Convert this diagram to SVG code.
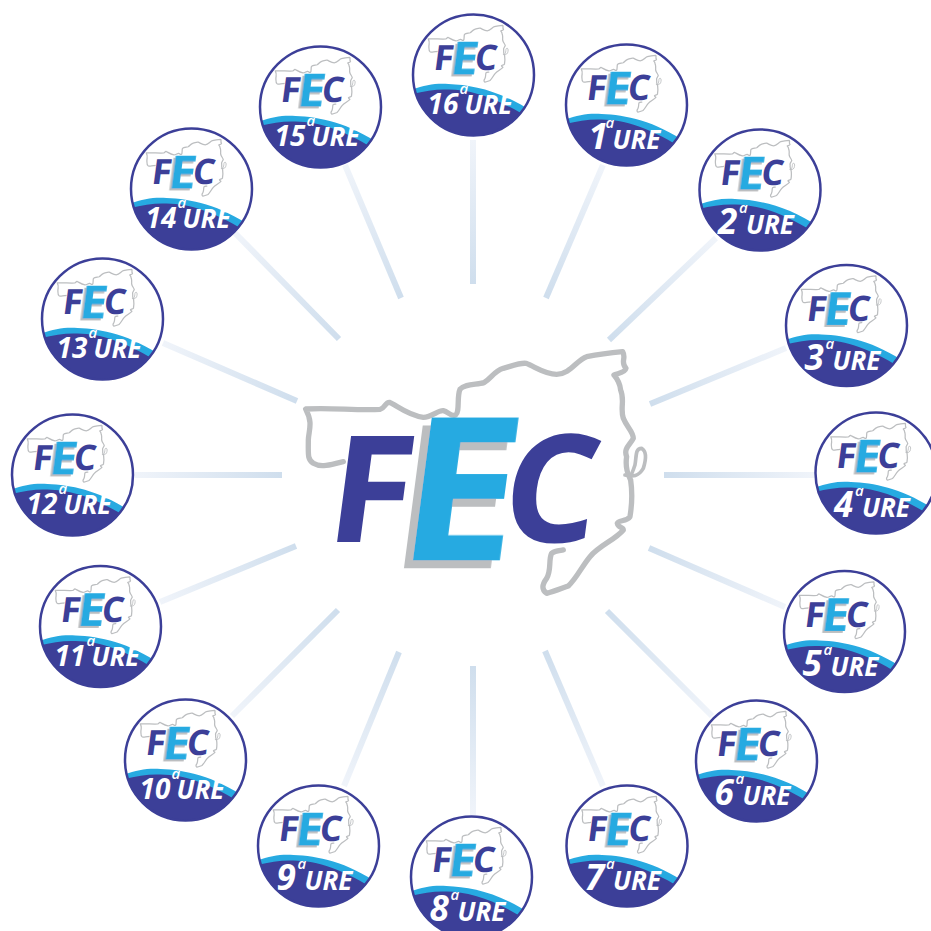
<svg xmlns="http://www.w3.org/2000/svg" width="931" height="931" viewBox="0 0 931 931">
<style>
.ol{fill:none;stroke:#bcbec0;stroke-width:16;stroke-linecap:round;stroke-linejoin:round}
.lt{font-family:"Open Sans","Noto Sans",sans-serif;font-weight:700}
.n{fill:#3c3f98}.b{fill:#27aae1}
.cn line{stroke-width:6}
.t{font-family:"Open Sans","Noto Sans",sans-serif;font-style:italic;font-weight:700;fill:#fff}
.d{font-size:28px}.s{font-size:35px}.a{font-size:15px;font-weight:600}.u{font-size:26px}
</style>
<defs>
<filter id="sh" x="-25%" y="-10%" width="140%" height="130%"><feFlood flood-color="#bcbec0"/><feComposite in2="SourceAlpha" operator="in"/><feOffset dx="-24" dy="25"/><feMerge><feMergeNode/><feMergeNode in="SourceGraphic"/></feMerge></filter>
<clipPath id="cc"><circle r="61"/></clipPath>
<linearGradient id="g"><stop offset="0" stop-color="#f0f4fa"/><stop offset="1" stop-color="#cfdeed"/></linearGradient>
<g id="logo">
<path class="ol" d="M160 365C125 372 95 385 70 370C52 358 55 345 55 300C56 270 70 250 47 207C120 202 200 212 270 208C285 205 285 187 298 187C320 195 350 225 400 232C425 232 445 210 460 212C475 215 485 232 497 225C510 215 500 170 510 148C525 130 560 135 582 128C605 115 610 95 640 85C665 78 690 68 708 70C735 80 765 103 800 103C840 103 860 60 890 50C930 42 965 38 998 35C1010 55 990 65 1008 85C1005 100 980 100 972 105C985 120 990 130 992 150C1005 180 990 205 1000 235C1010 260 1030 275 1030 295C1020 315 1000 325 1010 350C1005 385 1015 405 1022 420C1028 460 1025 500 1020 530C1010 545 985 540 982 550C985 565 1000 560 1000 570C975 600 930 615 900 650C875 680 860 715 835 738C815 745 790 755 770 760C755 750 755 735 770 715C785 690 775 660 785 640C795 632 810 632 820 630"/>
<path class="ol" d="M1005 405C1030 410 1045 410 1060 385C1068 360 1072 335 1055 325C1035 325 1040 350 1035 375C1030 390 1025 405 1020 410" style="stroke-width:11"/>
<text class="lt n" font-size="445" transform="translate(100 607) skewX(-7.500) scale(1.040 1)">F</text>
<text class="lt b" font-size="598" transform="translate(312 661) skewX(-7.500) scale(1.060 1)" filter="url(#sh)">E</text>
<text class="lt n" font-size="450" transform="translate(623 607) skewX(-7.500)">C</text>
</g>
<g id="badge">
<circle r="61" fill="#fff"/>
<g clip-path="url(#cc)">
<path class="b" d="M-65 16C-50 10 -38 8 -25 9C0 10 30 16 65 41V70H-65Z"/>
<path class="n" d="M-65 20C-50 16 -38 14 -25 14.500C0 15 25 23 65 49V70H-65Z"/>
</g>
<circle r="60.500" fill="none" stroke="#3c3f98" stroke-width="2.500"/>
<use href="#logo" transform="translate(-48.900 -52.300) scale(.0783)"/>
</g>
</defs>
<g id="connectors" class="cn">
<linearGradient id="c16" href="#g" gradientUnits="userSpaceOnUse" x1="473" y1="140" x2="473" y2="284"/><line x1="473" y1="140" x2="473" y2="284" stroke="url(#c16)"/>
<linearGradient id="c1" href="#g" gradientUnits="userSpaceOnUse" x1="603" y1="165" x2="546" y2="298"/><line x1="603" y1="165" x2="546" y2="298" stroke="url(#c1)"/>
<linearGradient id="c2" href="#g" gradientUnits="userSpaceOnUse" x1="716" y1="238" x2="609" y2="340"/><line x1="716" y1="238" x2="609" y2="340" stroke="url(#c2)"/>
<linearGradient id="c3" href="#g" gradientUnits="userSpaceOnUse" x1="786" y1="348" x2="650" y2="404"/><line x1="786" y1="348" x2="650" y2="404" stroke="url(#c3)"/>
<linearGradient id="c4" href="#g" gradientUnits="userSpaceOnUse" x1="815" y1="475" x2="664" y2="475"/><line x1="815" y1="475" x2="664" y2="475" stroke="url(#c4)"/>
<linearGradient id="c5" href="#g" gradientUnits="userSpaceOnUse" x1="785" y1="607" x2="649" y2="548"/><line x1="785" y1="607" x2="649" y2="548" stroke="url(#c5)"/>
<linearGradient id="c6" href="#g" gradientUnits="userSpaceOnUse" x1="712" y1="716" x2="607" y2="611"/><line x1="712" y1="716" x2="607" y2="611" stroke="url(#c6)"/>
<linearGradient id="c7" href="#g" gradientUnits="userSpaceOnUse" x1="603" y1="786" x2="545" y2="651"/><line x1="603" y1="786" x2="545" y2="651" stroke="url(#c7)"/>
<linearGradient id="c8" href="#g" gradientUnits="userSpaceOnUse" x1="473" y1="815" x2="473" y2="666"/><line x1="473" y1="815" x2="473" y2="666" stroke="url(#c8)"/>
<linearGradient id="c9" href="#g" gradientUnits="userSpaceOnUse" x1="344" y1="786" x2="399" y2="652"/><line x1="344" y1="786" x2="399" y2="652" stroke="url(#c9)"/>
<linearGradient id="c10" href="#g" gradientUnits="userSpaceOnUse" x1="232" y1="716" x2="338" y2="610"/><line x1="232" y1="716" x2="338" y2="610" stroke="url(#c10)"/>
<linearGradient id="c11" href="#g" gradientUnits="userSpaceOnUse" x1="160" y1="602" x2="296" y2="546"/><line x1="160" y1="602" x2="296" y2="546" stroke="url(#c11)"/>
<linearGradient id="c12" href="#g" gradientUnits="userSpaceOnUse" x1="135" y1="475" x2="282" y2="475"/><line x1="135" y1="475" x2="282" y2="475" stroke="url(#c12)"/>
<linearGradient id="c13" href="#g" gradientUnits="userSpaceOnUse" x1="163" y1="343" x2="297" y2="401"/><line x1="163" y1="343" x2="297" y2="401" stroke="url(#c13)"/>
<linearGradient id="c14" href="#g" gradientUnits="userSpaceOnUse" x1="235" y1="233" x2="339" y2="339"/><line x1="235" y1="233" x2="339" y2="339" stroke="url(#c14)"/>
<linearGradient id="c15" href="#g" gradientUnits="userSpaceOnUse" x1="345" y1="165" x2="401" y2="298"/><line x1="345" y1="165" x2="401" y2="298" stroke="url(#c15)"/>
</g>
<g id="center"><use href="#logo" transform="translate(290 340) scale(.3333)"/></g>
<g id="ure16" transform="translate(473.500 75)"><use href="#badge"/><text class="t"><tspan class="d" x="-46" y="39">16</tspan><tspan class="a" x="-14" y="19">a</tspan><tspan class="u" x="-9" y="39">URE</tspan></text></g>
<g id="ure1" transform="translate(626.500 105)"><use href="#badge"/><text class="t"><tspan class="s" x="-38" y="44">1</tspan><tspan class="a" x="-21" y="23">a</tspan><tspan class="u" x="-14" y="44">URE</tspan></text></g>
<g id="ure2" transform="translate(760 190)"><use href="#badge"/><text class="t"><tspan class="s" x="-42" y="44">2</tspan><tspan class="a" x="-21" y="23">a</tspan><tspan class="u" x="-14" y="44">URE</tspan></text></g>
<g id="ure3" transform="translate(846.500 325.500)"><use href="#badge"/><text class="t"><tspan class="s" x="-42" y="44">3</tspan><tspan class="a" x="-21" y="23">a</tspan><tspan class="u" x="-14" y="44">URE</tspan></text></g>
<g id="ure4" transform="translate(876 473)"><use href="#badge"/><text class="t"><tspan class="s" x="-42" y="44">4</tspan><tspan class="a" x="-21" y="23">a</tspan><tspan class="u" x="-14" y="44">URE</tspan></text></g>
<g id="ure5" transform="translate(844.500 631.500)"><use href="#badge"/><text class="t"><tspan class="s" x="-42" y="44">5</tspan><tspan class="a" x="-21" y="23">a</tspan><tspan class="u" x="-14" y="44">URE</tspan></text></g>
<g id="ure6" transform="translate(756.500 761)"><use href="#badge"/><text class="t"><tspan class="s" x="-42" y="44">6</tspan><tspan class="a" x="-21" y="23">a</tspan><tspan class="u" x="-14" y="44">URE</tspan></text></g>
<g id="ure7" transform="translate(627 846)"><use href="#badge"/><text class="t"><tspan class="s" x="-42" y="44">7</tspan><tspan class="a" x="-21" y="23">a</tspan><tspan class="u" x="-14" y="44">URE</tspan></text></g>
<g id="ure8" transform="translate(471.500 877)"><use href="#badge"/><text class="t"><tspan class="s" x="-42" y="44">8</tspan><tspan class="a" x="-21" y="23">a</tspan><tspan class="u" x="-14" y="44">URE</tspan></text></g>
<g id="ure9" transform="translate(318.500 846)"><use href="#badge"/><text class="t"><tspan class="s" x="-42" y="44">9</tspan><tspan class="a" x="-21" y="23">a</tspan><tspan class="u" x="-14" y="44">URE</tspan></text></g>
<g id="ure10" transform="translate(185.500 760)"><use href="#badge"/><text class="t"><tspan class="d" x="-46" y="39">10</tspan><tspan class="a" x="-14" y="19">a</tspan><tspan class="u" x="-9" y="39">URE</tspan></text></g>
<g id="ure11" transform="translate(100.500 626.500)"><use href="#badge"/><text class="t"><tspan class="d" x="-46" y="39">11</tspan><tspan class="a" x="-14" y="19">a</tspan><tspan class="u" x="-9" y="39">URE</tspan></text></g>
<g id="ure12" transform="translate(72.500 475)"><use href="#badge"/><text class="t"><tspan class="d" x="-46" y="39">12</tspan><tspan class="a" x="-14" y="19">a</tspan><tspan class="u" x="-9" y="39">URE</tspan></text></g>
<g id="ure13" transform="translate(102.500 319)"><use href="#badge"/><text class="t"><tspan class="d" x="-46" y="39">13</tspan><tspan class="a" x="-14" y="19">a</tspan><tspan class="u" x="-9" y="39">URE</tspan></text></g>
<g id="ure14" transform="translate(191.500 189)"><use href="#badge"/><text class="t"><tspan class="d" x="-46" y="39">14</tspan><tspan class="a" x="-14" y="19">a</tspan><tspan class="u" x="-9" y="39">URE</tspan></text></g>
<g id="ure15" transform="translate(320.500 107)"><use href="#badge"/><text class="t"><tspan class="d" x="-46" y="39">15</tspan><tspan class="a" x="-14" y="19">a</tspan><tspan class="u" x="-9" y="39">URE</tspan></text></g>
</svg>
